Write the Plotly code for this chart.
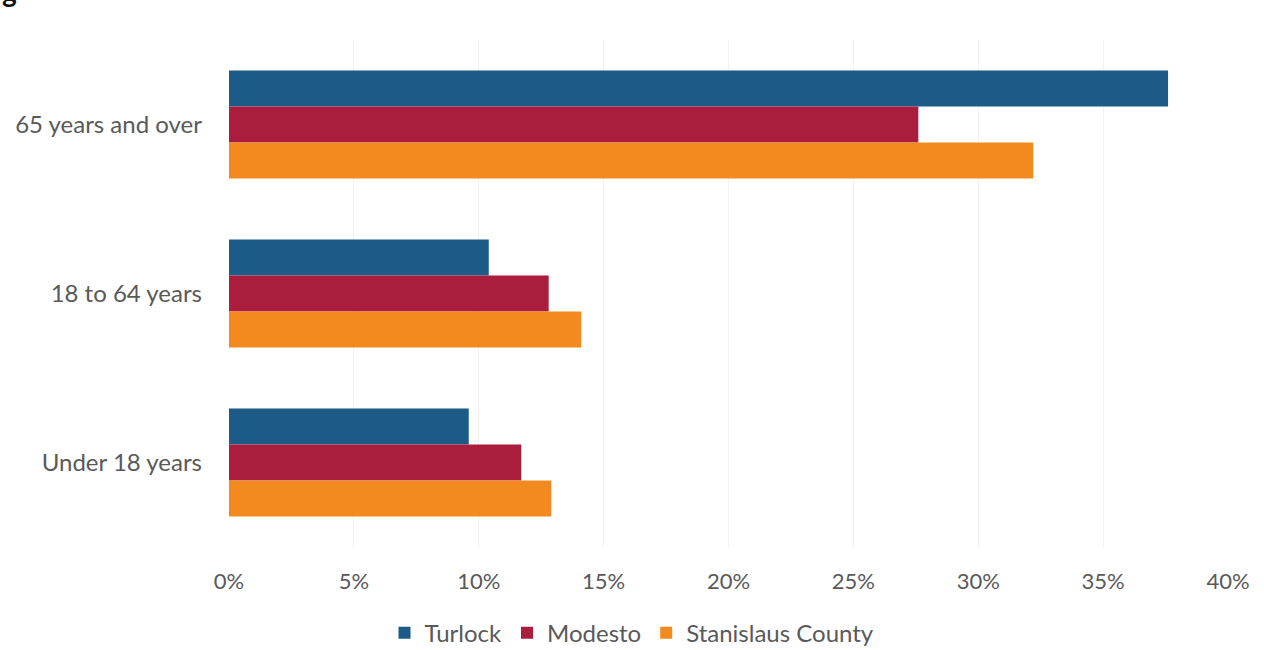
import plotly.graph_objects as go

# Share of residents by age group (percent)
age_groups = ["65 years and over", "18 to 64 years", "Under 18 years"]
turlock = [37.6, 10.4, 9.6]
modesto = [27.6, 12.8, 11.7]
stanislaus = [32.2, 14.1, 12.9]

tick_vals = [0, 5, 10, 15, 20, 25, 30, 35, 40]
tick_text = ["0%", "5%", "10%", "15%", "20%", "25%", "30%", "35%", "40%"]

series = [
    ("Turlock", turlock, "#1c5a87"),
    ("Modesto", modesto, "#ab1d3c"),
    ("Stanislaus County", stanislaus, "#f38a1f"),
]

FONT = "Lato, 'Open Sans', sans-serif"
TEXT = "#595959"

fig = go.Figure()
for name, vals, color in series:
    fig.add_trace(go.Bar(
        name=name,
        y=age_groups,
        x=vals,
        orientation="h",
        marker=dict(color=color, line=dict(width=0)),
        hoverinfo="skip",
    ))

fig.update_layout(
    width=1264,
    height=650,
    margin=dict(l=229, r=36, t=40, b=103),
    paper_bgcolor="white",
    plot_bgcolor="white",
    barmode="group",
    bargap=0.36,
    bargroupgap=0,
    font=dict(family=FONT, size=22, color=TEXT),
    showlegend=True,
    legend=dict(
        orientation="h",
        xref="container", yref="container",
        x=0.5, xanchor="center",
        y=0.026, yanchor="middle",
        font=dict(family=FONT, size=24, color=TEXT),
        itemsizing="constant",
        tracegroupgap=0,
    ),
    xaxis=dict(
        range=[0, 40],
        tickvals=tick_vals,
        ticktext=tick_text,
        showgrid=True,
        gridcolor="#f3f3f3",
        gridwidth=1,
        zeroline=False,
        showline=False,
        ticks="",
        ticklabelstandoff=19,
        tickfont=dict(family=FONT, size=22, color=TEXT),
    ),
    yaxis=dict(
        categoryorder="array",
        categoryarray=age_groups,
        range=[2.5, -0.5],
        showgrid=False,
        zeroline=False,
        showline=False,
        ticks="",
        ticklabelstandoff=26,
        tickfont=dict(family=FONT, size=24, color=TEXT),
    ),
    annotations=[
        dict(
            text="<b>g</b>",
            xref="paper", yref="paper",
            x=-229 / 999, xanchor="left",
            y=1.06, yanchor="bottom",
            showarrow=False,
            font=dict(family=FONT, size=28, color="#111111"),
        )
    ],
)

fig.write_html("out.html")
